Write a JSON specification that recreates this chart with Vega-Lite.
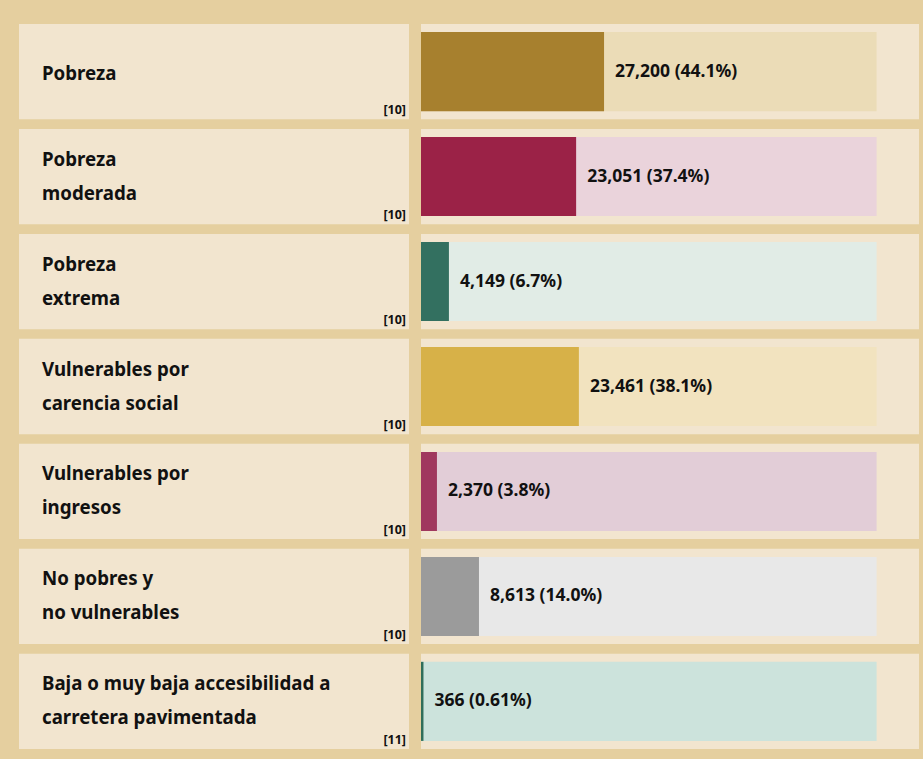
{
  "$schema": "https://vega.github.io/schema/vega-lite/v6.json",
  "background": "#E5CF9F",
  "padding": {"left": 19, "top": 24, "right": 4, "bottom": 10},
  "config": {"view": {"stroke": null}, "concat": {"spacing": 12}},
  "data": {
    "values": [
      {"name": "Pobreza", "ref": "[10]", "value": 27200, "label": "27,200 (44.1%)"},
      {"name": "Pobreza\nmoderada", "ref": "[10]", "value": 23051, "label": "23,051 (37.4%)"},
      {"name": "Pobreza\nextrema", "ref": "[10]", "value": 4149, "label": "4,149 (6.7%)"},
      {"name": "Vulnerables por\ncarencia social", "ref": "[10]", "value": 23461, "label": "23,461 (38.1%)"},
      {"name": "Vulnerables por\ningresos", "ref": "[10]", "value": 2370, "label": "2,370 (3.8%)"},
      {"name": "No pobres y\nno vulnerables", "ref": "[10]", "value": 8613, "label": "8,613 (14.0%)"},
      {"name": "Baja o muy baja accesibilidad a\ncarretera pavimentada", "ref": "[11]", "value": 366, "label": "366 (0.61%)"}
    ]
  },
  "hconcat": [
    {
      "width": 390,
      "height": 725,
      "encoding": {
        "y": {"field": "name", "type": "nominal", "sort": null, "axis": null,
              "scale": {"paddingInner": 0.0924, "paddingOuter": 0}}
      },
      "layer": [
        {"mark": {"type": "rect", "color": "#F2E5CF"}},
        {
          "transform": [{"filter": "indexof(datum.name, '\\n') < 0"}],
          "mark": {"type": "text", "align": "left", "baseline": "middle", "dx": 23, "dy": 2, "font": "Noto Sans", "fontWeight": "bold", "fontSize": 18.7, "lineHeight": 34, "lineBreak": "\n", "color": "#111111"},
          "encoding": {
            "x": {"datum": 0, "type": "quantitative", "scale": {"domain": [0, 1]}, "axis": null},
            "text": {"field": "name", "type": "nominal"}
          }
        },
        {
          "transform": [{"filter": "indexof(datum.name, '\\n') >= 0"}],
          "mark": {"type": "text", "align": "left", "baseline": "middle", "dx": 23, "dy": -17, "font": "Noto Sans", "fontWeight": "bold", "fontSize": 18.7, "lineHeight": 34, "lineBreak": "\n", "color": "#111111"},
          "encoding": {
            "x": {"datum": 0, "type": "quantitative", "scale": {"domain": [0, 1]}, "axis": null},
            "text": {"field": "name", "type": "nominal"}
          }
        },
        {
          "mark": {"type": "text", "align": "right", "baseline": "alphabetic", "dx": -3, "dy": -5, "font": "Noto Sans", "fontWeight": "bold", "fontSize": 12.5, "color": "#111111"},
          "encoding": {
            "x": {"datum": 1, "type": "quantitative", "scale": {"domain": [0, 1]}, "axis": null},
            "y": {"field": "name", "type": "nominal", "sort": null, "axis": null, "bandPosition": 1},
            "text": {"field": "ref", "type": "nominal"}
          }
        }
      ]
    },
    {
      "width": 498,
      "height": 725,
      "encoding": {
        "y": {"field": "name", "type": "nominal", "sort": null, "axis": null,
              "scale": {"paddingInner": 0.0924, "paddingOuter": 0}}
      },
      "layer": [
        {"mark": {"type": "rect", "color": "#F2E5CF"}},
        {
          "mark": {"type": "bar", "height": {"band": 0.83}},
          "encoding": {
            "x": {"datum": 0, "type": "quantitative", "scale": {"domain": [0, 74000], "nice": false, "zero": true}, "axis": null},
            "x2": {"datum": 67700},
            "fill": {"field": "name", "type": "nominal", "legend": null,
                     "scale": {"domain": ["Pobreza", "Pobreza\nmoderada", "Pobreza\nextrema", "Vulnerables por\ncarencia social", "Vulnerables por\ningresos", "No pobres y\nno vulnerables", "Baja o muy baja accesibilidad a\ncarretera pavimentada"],
                               "range": ["#EBDCB7", "#EAD3DB", "#E1ECE6", "#F2E3BF", "#E2CDD7", "#E8E8E8", "#CCE3DC"]}}
          }
        },
        {
          "mark": {"type": "bar", "height": {"band": 0.83}},
          "encoding": {
            "x": {"field": "value", "type": "quantitative", "scale": {"domain": [0, 74000], "nice": false}, "axis": null},
            "color": {"field": "name", "type": "nominal", "legend": null,
                      "scale": {"domain": ["Pobreza", "Pobreza\nmoderada", "Pobreza\nextrema", "Vulnerables por\ncarencia social", "Vulnerables por\ningresos", "No pobres y\nno vulnerables", "Baja o muy baja accesibilidad a\ncarretera pavimentada"],
                                "range": ["#A7802E", "#9B2247", "#337060", "#D7B148", "#A0385E", "#9B9B9B", "#306E5A"]}}
          }
        },
        {
          "mark": {"type": "text", "align": "left", "baseline": "middle", "dx": 11, "font": "Noto Sans", "fontWeight": "bold", "fontSize": 17.5, "color": "#111111"},
          "encoding": {
            "x": {"field": "value", "type": "quantitative", "axis": null},
            "text": {"field": "label", "type": "nominal"}
          }
        }
      ]
    }
  ]
}
